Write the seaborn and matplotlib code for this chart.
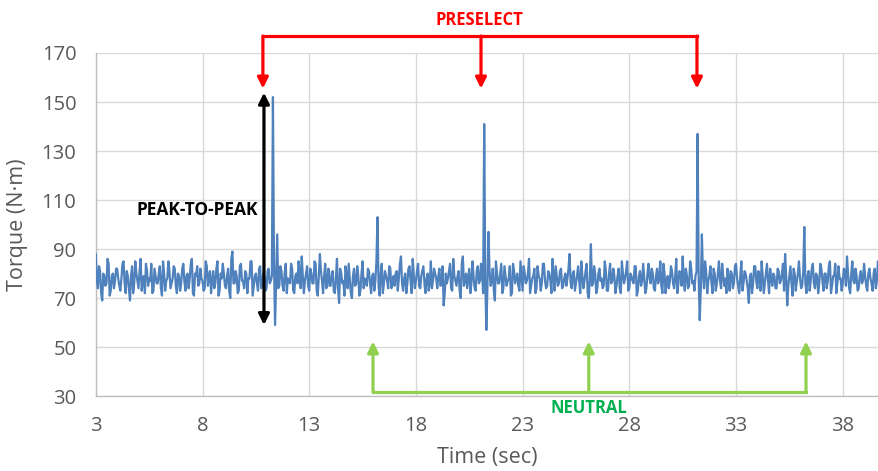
import numpy as np
import pandas as pd
import matplotlib
matplotlib.use("Agg")
import matplotlib.pyplot as plt
import seaborn as sns

# ---- data ----
# samples on the 0.1 s grid starting at 3.00 s
t_start_a = 3.0
t_start_b = 3.05
t_step = 0.1
torque_a = [
    88, 74, 81, 69, 79, 76, 84, 73, 80, 77, 82, 75, 78, 85, 72, 79, 69, 83, 76, 80,
    74, 86, 77, 72, 81, 78, 84, 73, 79, 76, 83, 71, 80, 77, 85, 74, 78, 82, 72, 79,
    76, 84, 73, 80, 78, 86, 71, 79, 75, 82, 77, 74, 83, 79, 72, 81, 76, 85, 73, 78,
    80, 74, 82, 70, 89, 76, 79, 73, 84, 77, 81, 72, 78, 85, 75, 80, 73, 83, 76, 79,
    74, 82, 77, 152, 59, 96, 75, 81, 73, 84, 78, 76, 82, 72, 80, 85, 74, 79, 77, 83,
    73, 80, 76, 84, 71, 88, 77, 79, 74, 82, 75, 81, 72, 86, 68, 80, 77, 83, 74, 78,
    70, 82, 76, 79, 73, 85, 78, 75, 81, 72, 80, 77, 103, 71, 84, 76, 79, 74, 82, 77,
    75, 81, 78, 87, 73, 80, 76, 83, 72, 79, 77, 84, 74, 81, 76, 78, 73, 85, 77, 80,
    74, 82, 76, 67, 80, 78, 84, 73, 79, 75, 81, 70, 87, 77, 74, 82, 76, 79, 73, 83,
    77, 80, 141, 57, 97, 75, 82, 69, 80, 76, 84, 74, 79, 77, 83, 72, 81, 78, 75, 85,
    73, 80, 77, 86, 75, 79, 72, 83, 78, 76, 84, 74, 81, 77, 86, 73, 79, 76, 82, 75,
    80, 78, 88, 74, 81, 76, 83, 72, 79, 77, 84, 70, 92, 76, 80, 74, 82, 78, 75, 81,
    73, 84, 77, 79, 75, 82, 72, 80, 78, 85, 74, 79, 76, 83, 73, 81, 77, 78, 74, 84,
    76, 80, 73, 82, 78, 75, 84, 72, 79, 77, 81, 74, 86, 76, 80, 87, 73, 79, 75, 82,
    77, 79, 137, 61, 96, 74, 81, 77, 83, 72, 80, 76, 85, 74, 79, 78, 82, 73, 80, 76,
    84, 75, 79, 73, 81, 77, 68, 80, 76, 83, 74, 78, 85, 72, 80, 77, 82, 75, 79, 74,
    81, 77, 84, 88, 67, 79, 76, 82, 73, 80, 78, 75, 99, 72, 81, 77, 84, 74, 79, 76,
    82, 73, 80, 77, 85, 75, 79, 72, 83, 78, 76, 81, 87, 74, 80, 77, 82, 73, 79, 76,
    84, 75, 80, 78, 73, 82, 77, 79,
]
# samples halfway between, starting at 3.05 s
torque_b = [
    77, 83, 72, 80, 75, 86, 71, 79, 74, 82, 78, 73, 84, 76, 81, 74, 79, 72, 85, 77,
    81, 73, 79, 84, 75, 77, 72, 82, 76, 80, 74, 85, 73, 78, 81, 76, 83, 75, 80, 73,
    82, 77, 79, 74, 84, 72, 80, 83, 76, 78, 73, 85, 75, 81, 77, 74, 82, 71, 80, 84,
    75, 79, 73, 86, 76, 81, 72, 83, 77, 74, 80, 78, 85, 71, 79, 76, 82, 74, 80, 73,
    81, 76, 79, 84, 78, 74, 83, 75, 80, 72, 77, 84, 73, 79, 76, 81, 87, 72, 80, 75,
    82, 76, 85, 73, 79, 81, 72, 84, 77, 75, 80, 73, 78, 74, 82, 76, 71, 79, 84, 72,
    79, 75, 83, 71, 80, 74, 77, 82, 76, 79, 73, 85, 75, 80, 72, 81, 77, 83, 74, 79,
    80, 73, 84, 76, 78, 72, 82, 77, 86, 74, 81, 75, 79, 83, 72, 80, 76, 74, 82, 78,
    79, 75, 83, 72, 76, 81, 74, 86, 77, 79, 73, 84, 75, 80, 78, 72, 85, 74, 81, 76,
    84, 72, 78, 74, 81, 77, 73, 85, 76, 80, 72, 83, 75, 78, 71, 84, 76, 80, 73, 79,
    83, 76, 80, 72, 78, 82, 74, 79, 73, 84, 77, 75, 80, 72, 79, 83, 75, 81, 74, 78,
    75, 82, 76, 80, 73, 79, 77, 85, 74, 81, 72, 78, 75, 83, 72, 80, 77, 74, 85, 73,
    80, 76, 82, 72, 79, 74, 85, 76, 81, 73, 80, 77, 83, 71, 79, 75, 84, 72, 80, 78,
    82, 74, 79, 76, 85, 72, 80, 77, 74, 83, 76, 79, 72, 81, 75, 78, 82, 74, 85, 76,
    73, 81, 78, 74, 80, 85, 72, 79, 76, 82, 73, 80, 77, 84, 75, 72, 78, 81, 74, 83,
    78, 72, 85, 76, 80, 74, 79, 72, 83, 77, 81, 73, 79, 76, 84, 72, 78, 80, 74, 82,
    76, 80, 73, 79, 75, 83, 71, 80, 77, 85, 74, 81, 76, 79, 73, 82, 76, 80, 72, 84,
    77, 80, 74, 83, 72, 79, 84, 76, 78, 73, 82, 75, 80, 72, 85, 76, 79, 74, 81, 77,
    79, 73, 82, 76, 80, 74, 85, 72,
]
x_ticks = [3, 8, 13, 18, 23, 28, 33, 38]
y_ticks = [30, 50, 70, 90, 110, 130, 150, 170]

preselect_x = [10.83, 21.05, 31.17]
neutral_x = [15.99, 26.1, 36.28]

time_a = t_start_a + t_step * np.arange(len(torque_a))
time_b = t_start_b + t_step * np.arange(len(torque_b))
df = pd.DataFrame({"Time": np.concatenate([time_a, time_b]),
                   "Torque": torque_a + torque_b}).sort_values("Time")

# ---- style ----
sns.set_theme(style="white")
plt.rcParams["font.family"] = ["Open Sans", "DejaVu Sans"]

fig = plt.figure(figsize=(8.79, 4.71), dpi=100)
ax = fig.add_axes([0.109, 0.159, 0.891, 0.7285])

sns.lineplot(data=df, x="Time", y="Torque", ax=ax, color="#4F81BD",
             linewidth=1.6, zorder=3, sort=False, estimator=None)

ax.set_xlim(3, 39.7)
ax.set_ylim(30, 170)
ax.set_xticks(x_ticks)
ax.set_yticks(y_ticks)
ax.grid(True, color="#D9D9D9", linewidth=1)
ax.tick_params(axis="both", length=0, labelsize=14.5, labelcolor="#595959", pad=14)
for s in ["top", "right"]:
    ax.spines[s].set_visible(False)
for s in ["left", "bottom"]:
    ax.spines[s].set_color("#BFBFBF")
    ax.spines[s].set_linewidth(1)

ax.set_xlabel("Time (sec)", fontsize=15.5, color="#595959", labelpad=8)
ax.set_ylabel("Torque (N\u00b7m)", fontsize=15.5, color="#595959", labelpad=10)

# ---- annotations ----
red = "#FF0000"
green_line = "#92D050"
green_text = "#00B050"

y_top_red = 176.9
y_head_red = 155.5
ax.plot([preselect_x[0], preselect_x[-1]], [y_top_red, y_top_red], color=red,
        lw=2.3, clip_on=False, solid_capstyle="projecting", zorder=5)
for xv in preselect_x:
    ax.annotate("", xy=(xv, y_head_red), xytext=(xv, y_top_red),
                arrowprops=dict(arrowstyle="-|>", color=red, lw=2.3,
                                mutation_scale=16, shrinkA=0, shrinkB=0),
                annotation_clip=False, zorder=5)
ax.text(np.mean([preselect_x[0], preselect_x[-1]]), 183.4, "PRESELECT",
        color=red, fontsize=12, fontweight="bold", ha="center", va="center",
        clip_on=False)

y_bot_green = 31.6
y_head_green = 52.3
ax.plot([neutral_x[0], neutral_x[-1]], [y_bot_green, y_bot_green], color=green_line,
        lw=2.3, clip_on=False, solid_capstyle="projecting", zorder=5)
for xv in neutral_x:
    ax.annotate("", xy=(xv, y_head_green), xytext=(xv, y_bot_green),
                arrowprops=dict(arrowstyle="-|>", color=green_line, lw=2.3,
                                mutation_scale=16, shrinkA=0, shrinkB=0),
                annotation_clip=False, zorder=5)
ax.text(neutral_x[1], 25.0, "NEUTRAL", color=green_text, fontsize=12,
        fontweight="bold", ha="center", va="center", clip_on=False)

# peak-to-peak double arrow
ax.annotate("", xy=(10.88, 153.8), xytext=(10.88, 59.0),
            arrowprops=dict(arrowstyle="<|-|>", color="black", lw=2.3,
                            mutation_scale=16, shrinkA=0, shrinkB=0),
            zorder=6)
ax.text(10.58, 105.9, "PEAK-TO-PEAK", color="black", fontsize=12.5,
        fontweight="bold", ha="right", va="center")

fig.savefig("out.png", dpi=100)
